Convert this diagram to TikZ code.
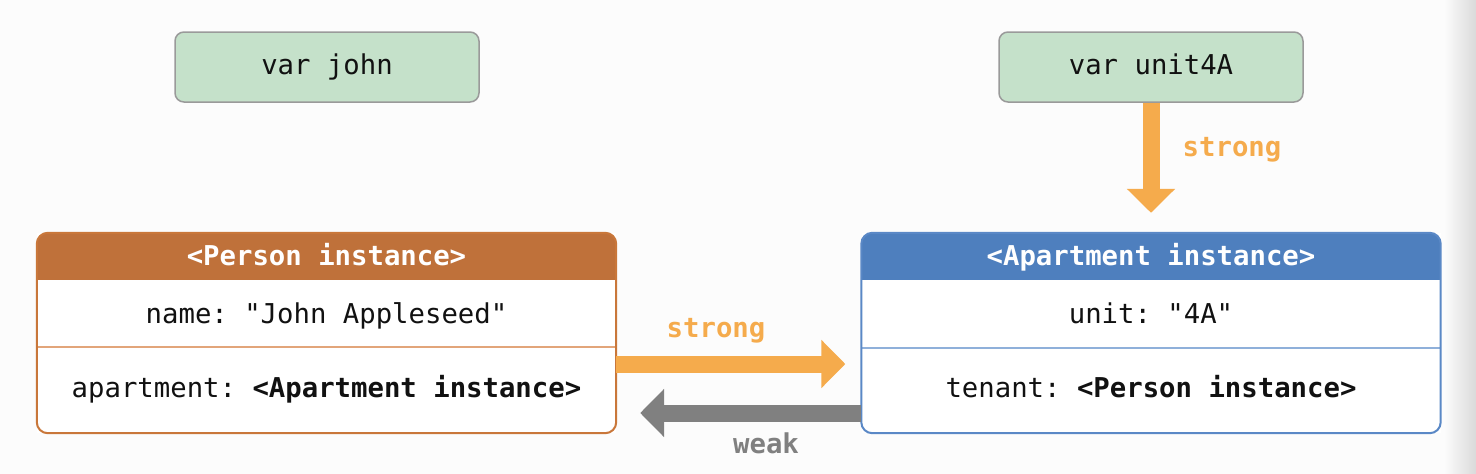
\documentclass[tikz,border=0pt]{standalone}
\usepackage{fontspec}
\setmonofont{DejaVu Sans Mono}
\usetikzlibrary{arrows.meta}
\definecolor{bgc}{HTML}{FCFCFC}
\definecolor{edgec}{HTML}{DADADA}
\definecolor{varfill}{HTML}{C5E1CA}
\definecolor{varborder}{HTML}{9A9A9A}
\definecolor{personh}{HTML}{BF713A}
\definecolor{personb}{HTML}{C9773A}
\definecolor{personl}{HTML}{E2A57A}
\definecolor{apth}{HTML}{4E7FBE}
\definecolor{aptb}{HTML}{5A88C6}
\definecolor{aptl}{HTML}{8FB0DA}
\definecolor{strongc}{HTML}{F5AB4C}
\definecolor{weakc}{HTML}{808080}
\definecolor{txt}{HTML}{111111}
\begin{document}
\begin{tikzpicture}[x=1pt,y=-1pt,
  font=\ttfamily\fontsize{27.3}{30}\selectfont,
  every node/.style={text height=20pt, text depth=6pt},
  varbox/.style={draw=varborder, fill=varfill, rounded corners=9pt, line width=1.5pt,
    minimum width=304pt, minimum height=70pt, inner sep=0pt, text=txt},
  objbox/.style={fill=white, minimum width=579pt, minimum height=200pt, inner sep=0pt,
    text height=, text depth=},
  htext/.style={text=white, font=\ttfamily\bfseries\fontsize{27.3}{30}\selectfont},
  ftext/.style={text=txt},
  strongarrow/.style={draw=strongc, line width=17pt, -{Triangle[length=24pt,width=47pt]}},
  weakarrow/.style={draw=weakc, line width=17pt, -{Triangle[length=24pt,width=47pt]}},
  lbl/.style={font=\ttfamily\bfseries\fontsize{27.3}{30}\selectfont}
]
\useasboundingbox (0,0) rectangle (1476,474);
\fill[bgc] (0,0) rectangle (1476,474);
\shade[left color=bgc, right color=edgec] (1444,0) rectangle (1476,474);

% variables
\node[varbox] (john) at (327,67) {var john};
\node[varbox] (unit) at (1151,67) {var unit4A};

% Person instance
\node[objbox] (person) at (326.5,333) {};
\begin{scope}
  \clip[rounded corners=11pt] (person.north west) rectangle (person.south east);
  \fill[personh] (person.north west) rectangle (person.east |- 0,280);
\end{scope}
\draw[personl, line width=1.5pt] (person.west |- 0,347) -- (person.east |- 0,347);
\draw[personb, line width=2pt, rounded corners=11pt] (person.north west) rectangle (person.south east);
\node[htext] (personhd) at (326.5,258) {<Person instance>};
\node[ftext] (pname) at (326.5,316) {name: "John Appleseed"};
\node[ftext] (papt) at (326.5,390) {apartment: \textbf{<Apartment instance>}};

% Apartment instance
\node[objbox] (apt) at (1151,333) {};
\begin{scope}
  \clip[rounded corners=11pt] (apt.north west) rectangle (apt.south east);
  \fill[apth] (apt.north west) rectangle (apt.east |- 0,280);
\end{scope}
\draw[aptl, line width=1.5pt] (apt.west |- 0,348) -- (apt.east |- 0,348);
\draw[aptb, line width=2pt, rounded corners=11pt] (apt.north west) rectangle (apt.south east);
\node[htext] (apthd) at (1151,258) {<Apartment instance>};
\node[ftext] (aunit) at (1151,316) {unit: "4A"};
\node[ftext] (aten) at (1151,390) {tenant: \textbf{<Person instance>}};

% connectors
\draw[strongarrow, shorten >=20pt] (unit.south) -- (apt.north);
\coordinate (s1) at (person.east |- 0,364);
\coordinate (s2) at (apt.west |- 0,364);
\draw[strongarrow, shorten >=16pt] (s1) -- (s2);
\coordinate (w1) at (apt.west |- 0,413);
\coordinate (w2) at (person.east |- 0,413);
\draw[weakarrow, shorten >=24pt] (w1) -- (w2);

% labels
\node[lbl, text=strongc] (lstrong1) at (1232,149) {strong};
\node[lbl, text=strongc] (lstrong2) at (716,330) {strong};
\node[lbl, text=weakc] (lweak) at (766,446) {weak};
\end{tikzpicture}
\end{document}
